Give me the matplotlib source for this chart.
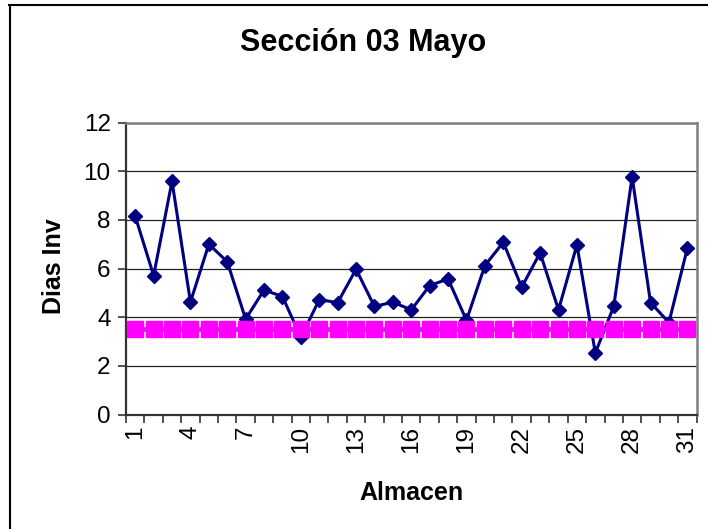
import matplotlib
matplotlib.use("Agg")
import matplotlib.pyplot as plt
from matplotlib.lines import Line2D
from matplotlib.ticker import FixedLocator, NullFormatter

plt.rcParams['font.family'] = ['Liberation Sans', 'DejaVu Sans']

# Días de inventario por almacén, sección 03, mayo
almacenes = list(range(1, 32))
dias_inv = [8.15, 5.71, 9.59, 4.62, 7.00, 6.28, 3.92, 5.12, 4.85, 3.17,
            4.72, 4.60, 5.97, 4.44, 4.62, 4.30, 5.30, 5.57, 3.87, 6.12,
            7.08, 5.23, 6.65, 4.30, 6.97, 2.53, 4.44, 9.77, 4.60, 3.78, 6.83]
objetivo = [3.5] * len(almacenes)
etiquetas_x = list(range(1, 32, 3))

fig = plt.figure(figsize=(7.08, 5.29), dpi=100)
ax = fig.add_axes([0.178, 0.2164, 0.8058, 0.552])

ax.plot(almacenes, dias_inv, color='#000080', lw=2.2, marker='D',
        markersize=7.4, markerfacecolor='#000080', markeredgecolor='#000080',
        zorder=3, clip_on=False)
ax.plot(almacenes, objetivo, color='#FF00FF', lw=3.4, marker='s',
        markersize=11, markerfacecolor='#FF00FF', markeredgecolor='#FF00FF',
        zorder=4, clip_on=False)

ax.set_xlim(0.5, 31.5)
ax.set_ylim(0, 12)
ax.set_yticks(range(0, 13, 2))
ax.yaxis.grid(True, color='#222222', lw=0.9)
ax.set_axisbelow(True)

# category boundaries carry the tick marks, labels sit at category centres
ax.xaxis.set_major_locator(FixedLocator([i + 0.5 for i in range(0, 32)]))
ax.xaxis.set_major_formatter(NullFormatter())
ax.xaxis.set_minor_locator(FixedLocator(etiquetas_x))
ax.set_xticklabels([str(v) for v in etiquetas_x], minor=True, rotation=90,
                   fontsize=17.5)
ax.tick_params(axis='x', which='major', length=6, width=1.2, color='#333333',
               direction='out')
ax.tick_params(axis='x', which='minor', length=0, pad=8)
ax.tick_params(axis='y', length=6, width=1.2, color='#333333', labelsize=17.5,
               pad=5)

for side in ('top', 'right'):
    ax.spines[side].set_color('#808080')
    ax.spines[side].set_linewidth(1.8)
for side in ('left', 'bottom'):
    ax.spines[side].set_color('#333333')
    ax.spines[side].set_linewidth(1.6)

ax.set_xlabel('Almacen', fontsize=18, fontweight='bold', va='center')
ax.xaxis.set_label_coords(0.5, -0.268)
ax.set_ylabel('Dias Inv', fontsize=18, fontweight='bold', va='center')
ax.yaxis.set_label_coords(-0.126, 0.508)
fig.text(363 / 708, 1 - 43 / 529, 'Sección 03 Mayo', fontsize=22,
         fontweight='bold', ha='center', va='center')

# chart area border (top and left edges)
fig.add_artist(Line2D([9 / 708, 1.0], [1 - 4.5 / 529, 1 - 4.5 / 529],
                      transform=fig.transFigure, color='black', lw=1.5))
fig.add_artist(Line2D([9.5 / 708, 9.5 / 708], [0.0, 1 - 4.5 / 529],
                      transform=fig.transFigure, color='black', lw=1.5))

fig.savefig('out.png', dpi=100)
